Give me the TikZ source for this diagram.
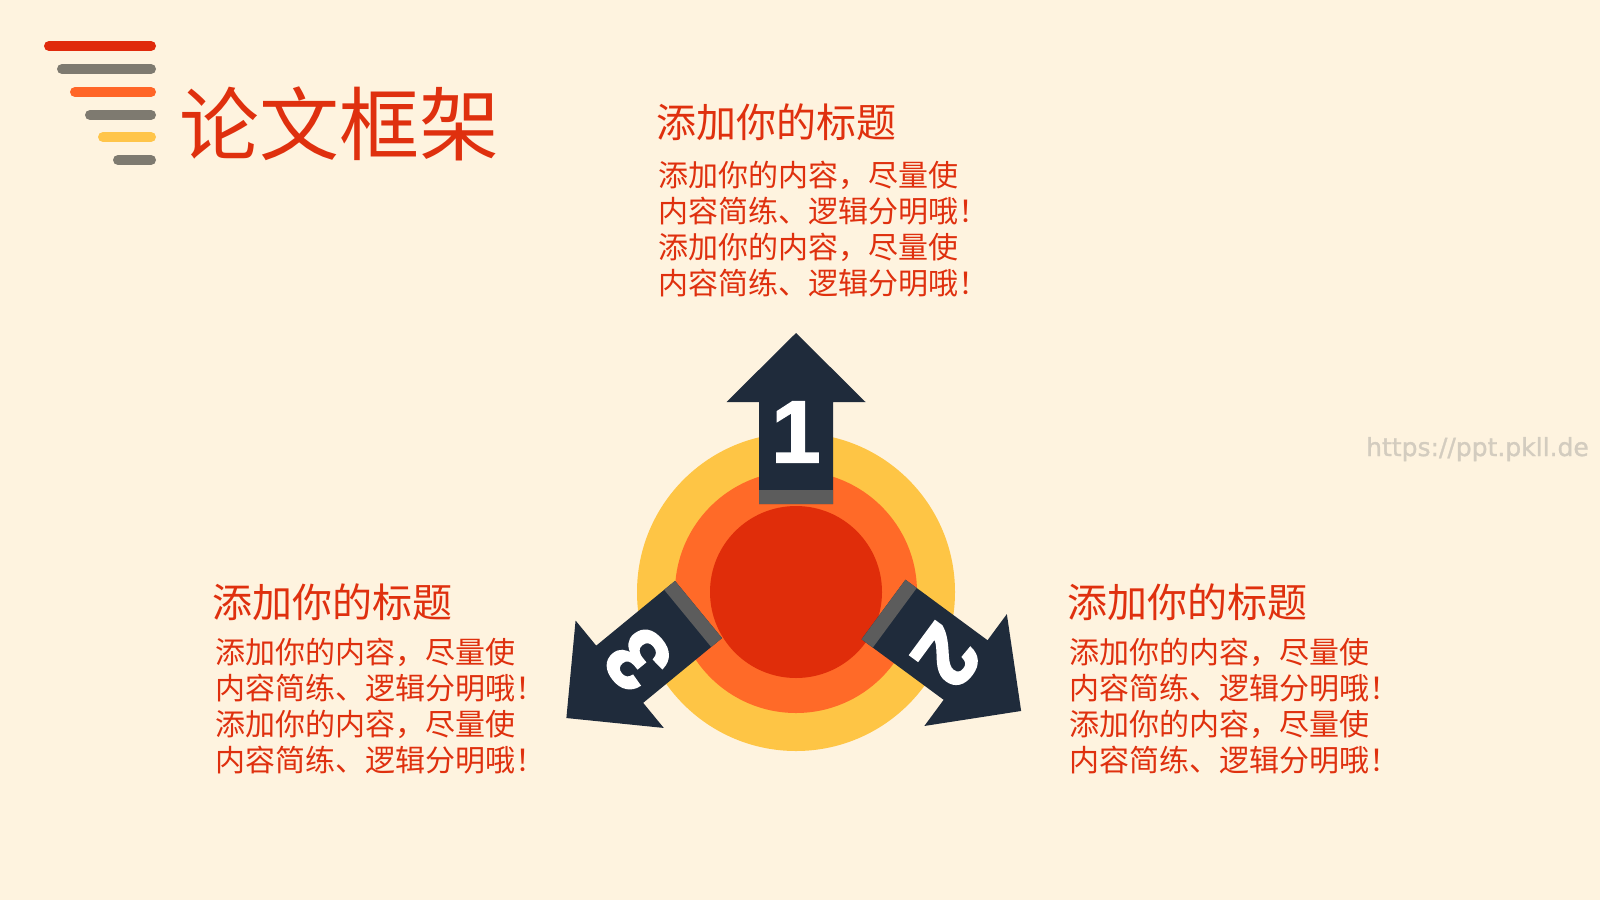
\documentclass[tikz,border=0pt]{standalone}
\usepackage{fontspec}
\newfontfamily\cjk{Noto Sans CJK SC}
\newfontfamily\numfont{Liberation Sans}[BoldFeatures={FakeBold=2}]
\newfontfamily\wmfont{DejaVu Sans}[FakeBold=1.2]
\definecolor{bg}{HTML}{FEF3DF}
\definecolor{titlered}{HTML}{DF300E}
\definecolor{barred}{HTML}{E02A0B}
\definecolor{bargray}{HTML}{7E7A70}
\definecolor{barorange}{HTML}{FF6527}
\definecolor{baryellow}{HTML}{FFC54A}
\definecolor{cyellow}{HTML}{FEC545}
\definecolor{corange}{HTML}{FF6A28}
\definecolor{cred}{HTML}{E02D0A}
\definecolor{navy}{HTML}{1F2B3B}
\definecolor{band}{HTML}{5C5C5C}
\definecolor{wm}{HTML}{D3CCBF}
\tikzset{
  logobar/.style={line width=10pt, line cap=round},
  headtext/.style={anchor=base west, inner sep=0pt, text=titlered, font=\cjk\fontsize{40}{48}\selectfont},
  bodytext/.style={anchor=base west, inner sep=0pt, text=titlered, font=\cjk\fontsize{30}{36}\selectfont},
  numtext/.style={inner sep=0pt, text=white, font=\numfont\bfseries\fontsize{88}{100}\selectfont}
}
\begin{document}
\begin{tikzpicture}[x=1pt,y=-1pt]
\fill[bg] (0,0) rectangle (1600,900);
\useasboundingbox (0,0) rectangle (1600,900);
% logo bars
\foreach \y/\xs/\c in {46/49/barred, 69/62/bargray, 92/75/barorange, 115/90/bargray, 137/103/baryellow, 160/118/bargray}
  \draw[logobar, draw=\c] (\xs,\y) -- (151,\y);
% title
\node[anchor=base west, inner sep=0pt, text=titlered, font=\cjk\fontsize{80}{96}\selectfont] (title) at (179,154) {论文框架};
% circles
\coordinate (c) at (796,592);
\fill[cyellow] (c) circle[radius=159];
\fill[corange] (c) circle[radius=121];
\fill[cred] (c) circle[radius=86];
% arrows: base midpoint / rotation / number offset
\foreach \bx/\by/\a/\n/\d in {796/504/0/1/72, 883.5/609.5/-126.4/2/79, 698.5/609.5/129.4/3/79} {
  \begin{scope}[shift={(\bx,\by)}, rotate=\a]
    \fill[navy] (-37,0) -- (-37,-102) -- (-69.5,-102) -- (0,-171) -- (69.5,-102) -- (37,-102) -- (37,0) -- cycle;
    \fill[band] (-37,0) rectangle (37,-14);
    \node[numtext, transform shape] (num\n) at (0,-\d) {\n};
  \end{scope}
}
% text blocks
\foreach \nm/\hx/\bx/\hy/\by in {top/656/658/137/186, left/212/215/617/663, right/1067/1069/617/663} {
  \node[headtext] (\nm head) at (\hx,\hy) {添加你的标题};
  \node[bodytext] (\nm l1) at (\bx,\by) {添加你的内容，尽量使};
  \node[bodytext] (\nm l2) at (\bx,\by+36) {内容简练、逻辑分明哦！};
  \node[bodytext] (\nm l3) at (\bx,\by+72) {添加你的内容，尽量使};
  \node[bodytext] (\nm l4) at (\bx,\by+108) {内容简练、逻辑分明哦！};
}
% watermark
\node[anchor=base west, inner sep=0pt, text=wm, font=\wmfont\fontsize{25}{30}\selectfont] (wm) at (1366,456) {https://ppt.pkll.de};
\end{tikzpicture}
\end{document}
